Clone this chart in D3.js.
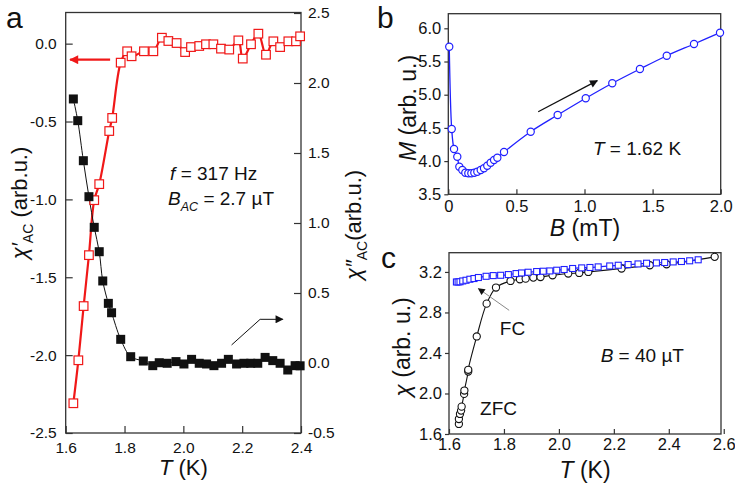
<!DOCTYPE html>
<html><head><meta charset="utf-8">
<script src="https://cdn.jsdelivr.net/npm/d3@7"></script>
<style>
body{margin:0;background:#fff}
svg{display:block;background:#fff}
text{font-family:"Liberation Sans",Arial,sans-serif;fill:#111}
</style>
</head><body>
<svg id="chart" width="735" height="489"></svg>
<script>
// ---------- Panel a data ----------
const aTicksX = [1.6, 1.8, 2.0, 2.2, 2.4];
const aTicksLeft = [-2.5, -2.0, -1.5, -1.0, -0.5, 0.0];
const aTicksRight = [-0.5, 0.0, 0.5, 1.0, 1.5, 2.0, 2.5];
const chiPrimeT = [1.626,1.643,1.661,1.679,1.697,1.714,1.748,1.758,1.787,1.809,1.824,1.866,1.898,1.927,1.949,1.977,2.006,2.026,2.054,2.077,2.102,2.128,2.156,2.187,2.202,2.230,2.255,2.281,2.306,2.329,2.357,2.383,2.397];
const chiPrime = [-2.309,-2.033,-1.685,-1.358,-1.005,-0.902,-0.561,-0.477,-0.122,-0.049,-0.081,-0.049,-0.049,0.038,0.017,0.004,-0.054,-0.022,-0.015,-0.004,-0.004,-0.032,-0.038,0.021,-0.096,-0.004,0.064,-0.071,0.015,-0.022,0.015,0.015,0.047];
const chiDoubleT = [1.626,1.641,1.660,1.679,1.697,1.714,1.726,1.745,1.756,1.787,1.821,1.864,1.896,1.918,1.945,1.975,2.002,2.028,2.054,2.079,2.104,2.130,2.153,2.181,2.206,2.229,2.253,2.278,2.304,2.329,2.355,2.380,2.397];
const chiDouble = [1.886,1.731,1.445,1.188,0.969,0.795,0.586,0.426,0.359,0.169,0.045,0.014,-0.019,0.002,-0.002,0.010,-0.007,0.026,-0.002,-0.007,-0.019,-0.002,0.026,-0.007,-0.002,-0.002,-0.002,0.040,0.017,-0.002,-0.050,-0.019,-0.020];

// ---------- Panel b data ----------
const bTicksX = [0, 0.5, 1.0, 1.5, 2.0];
const bTicksY = [3.5, 4.0, 4.5, 5.0, 5.5, 6.0];
const fieldB = [0.007,0.025,0.042,0.066,0.081,0.103,0.125,0.147,0.169,0.191,0.213,0.238,0.262,0.286,0.311,0.336,0.360,0.409,0.605,0.803,1.009,1.204,1.407,1.604,1.804,1.995];
const magM = [5.723,4.483,4.182,4.066,3.916,3.866,3.825,3.816,3.816,3.825,3.840,3.866,3.892,3.931,3.976,4.017,4.051,4.137,4.443,4.694,4.946,5.172,5.387,5.587,5.764,5.934];

// ---------- Panel c data ----------
const cTicksX = [1.6, 1.8, 2.0, 2.2, 2.4, 2.6];
const cTicksY = [1.6, 2.0, 2.4, 2.8, 3.2];
const zfcT = [1.636,1.636,1.640,1.644,1.646,1.655,1.656,1.670,1.670,1.701,1.737,1.771,1.824,1.858,1.879,1.907,1.933,1.977,2.034,2.074,2.107,2.228,2.331,2.392,2.567];
const zfcChi = [1.699,1.748,1.798,1.831,1.870,1.996,2.029,2.217,2.234,2.563,2.887,3.046,3.111,3.128,3.134,3.144,3.150,3.167,3.184,3.190,3.200,3.234,3.266,3.276,3.349];
const fcT = [1.627,1.633,1.640,1.650,1.662,1.676,1.691,1.707,1.735,1.761,1.788,1.816,1.844,1.864,1.888,1.919,1.943,1.967,1.992,2.019,2.050,2.083,2.113,2.143,2.185,2.216,2.252,2.288,2.319,2.355,2.385,2.416,2.446,2.476,2.507];
const fcChi = [3.101,3.101,3.103,3.111,3.118,3.128,3.135,3.145,3.157,3.164,3.167,3.174,3.184,3.190,3.197,3.204,3.207,3.210,3.217,3.224,3.234,3.240,3.244,3.250,3.259,3.266,3.273,3.279,3.286,3.289,3.293,3.299,3.303,3.310,3.320];

const RED = "#f01818", BLUE = "#2020ff", AXC = "#333";
const svg = d3.select("#chart");
const defs = svg.append("defs");
function marker(id, color, w, h) {
  defs.append("marker").attr("id", id).attr("viewBox", "0 0 10 10")
    .attr("refX", 9).attr("refY", 5).attr("markerWidth", w).attr("markerHeight", h)
    .attr("markerUnits", "userSpaceOnUse").attr("orient", "auto")
    .append("path").attr("d", "M0,0 L10,5 L0,10 Z").attr("fill", color);
}
marker("arrRed", RED, 13, 9);
marker("arrBlk", "#111", 20, 8);
marker("arrSmall", "#111", 9, 7);

function styleAxis(g, fs) {
  g.select(".domain").remove();
  g.selectAll(".tick line").attr("stroke", AXC).attr("stroke-width", 1.2);
  g.selectAll(".tick text").attr("font-size", fs).attr("fill", "#111")
    .attr("font-family", '"Liberation Sans",Arial,sans-serif');
}
function frame(x, y) {
  const [x0, x1] = x.range(), [y0, y1] = y.range();
  svg.append("rect").attr("x", x0).attr("y", Math.min(y0, y1))
    .attr("width", x1 - x0).attr("height", Math.abs(y0 - y1))
    .attr("fill", "none").attr("stroke", AXC).attr("stroke-width", 1.3);
}
const fmt1 = d => d.toFixed(1);

// ================= Panel a =================
const xa = d3.scaleLinear().domain([1.6, 2.4]).range([65.7, 301]);
const yaL = d3.scaleLinear().domain([-2.5, 0.2]).range([433, 12.5]);
const yaR = d3.scaleLinear().domain([-0.5, 2.5]).range([433, 13]);

svg.append("g").attr("transform", `translate(0,433)`)
  .call(d3.axisBottom(xa).tickValues(aTicksX).tickFormat(fmt1).tickSizeInner(-7).tickSizeOuter(0).tickPadding(9))
  .call(g => styleAxis(g, 15.5));
svg.append("g").attr("transform", `translate(65.7,0)`)
  .call(d3.axisLeft(yaL).tickValues(aTicksLeft).tickFormat(fmt1).tickSizeInner(-7).tickSizeOuter(0).tickPadding(9))
  .call(g => styleAxis(g, 15.5));
svg.append("g").attr("transform", `translate(301,0)`)
  .call(d3.axisRight(yaR).tickValues(aTicksRight).tickFormat(fmt1).tickSizeInner(-7).tickSizeOuter(0).tickPadding(7))
  .call(g => styleAxis(g, 15.5));
frame(xa, yaL);

const redPts = chiPrimeT.map((t, i) => [t, chiPrime[i]]);
const blkPts = chiDoubleT.map((t, i) => [t, chiDouble[i]]);
svg.append("path").datum(redPts)
  .attr("d", d3.line().x(d => xa(d[0])).y(d => yaL(d[1])).curve(d3.curveCatmullRom))
  .attr("fill", "none").attr("stroke", RED).attr("stroke-width", 2.2);
svg.append("path").datum(blkPts)
  .attr("d", d3.line().x(d => xa(d[0])).y(d => yaR(d[1])).curve(d3.curveCatmullRom))
  .attr("fill", "none").attr("stroke", "#111").attr("stroke-width", 1);
svg.append("g").selectAll("rect").data(redPts).join("rect")
  .attr("x", d => xa(d[0]) - 4.3).attr("y", d => yaL(d[1]) - 4.3)
  .attr("width", 8.6).attr("height", 8.6)
  .attr("fill", "#fff").attr("stroke", RED).attr("stroke-width", 1.2);
svg.append("g").selectAll("rect").data(blkPts).join("rect")
  .attr("x", d => xa(d[0]) - 4.5).attr("y", d => yaR(d[1]) - 4.5)
  .attr("width", 9).attr("height", 9).attr("fill", "#111");

// arrows
svg.append("line").attr("x1", xa(1.751)).attr("y1", yaL(-0.103))
  .attr("x2", xa(1.615)).attr("y2", yaL(-0.103))
  .attr("stroke", RED).attr("stroke-width", 2.2).attr("marker-end", "url(#arrRed)");
svg.append("path")
  .attr("d", d3.line()([[xa(2.164), yaR(0.129)], [xa(2.261), yaR(0.312)], [xa(2.338), yaR(0.312)]]))
  .attr("fill", "none").attr("stroke", "#111").attr("stroke-width", 1).attr("marker-end", "url(#arrBlk)");

// annotations
const ta = svg.append("text").attr("x", xa(1.955)).attr("y", yaL(-0.877)).attr("font-size", 19);
ta.append("tspan").attr("font-style", "italic").text("f");
ta.append("tspan").text(" = 317 Hz");
const tb = svg.append("text").attr("x", xa(1.948)).attr("y", yaL(-1.037)).attr("font-size", 19);
tb.append("tspan").attr("font-style", "italic").text("B");
tb.append("tspan").attr("font-style", "italic").attr("font-size", 12.5).attr("dy", 6).text("AC");
tb.append("tspan").attr("dy", -6).text(" = 2.7 \u00b5T");

// axis titles
const ly = svg.append("text").attr("transform", "translate(27,203) rotate(-90)")
  .attr("text-anchor", "middle").attr("font-size", 22);
ly.append("tspan").attr("font-style", "italic").text("\u03c7\u2032");
ly.append("tspan").attr("font-size", 14).attr("dy", 6).text("AC");
ly.append("tspan").attr("dy", -6).text(" (arb.u.)");
const ry = svg.append("text").attr("transform", "translate(361,225) rotate(-90)")
  .attr("text-anchor", "middle").attr("font-size", 22);
ry.append("tspan").attr("font-style", "italic").text("\u03c7\u2033");
ry.append("tspan").attr("font-size", 14).attr("dy", 6).text("AC");
ry.append("tspan").attr("dy", -6).text("(arb.u.)");
const lx = svg.append("text").attr("x", xa(2.0)).attr("y", 475).attr("text-anchor", "middle").attr("font-size", 22);
lx.append("tspan").attr("font-style", "italic").text("T");
lx.append("tspan").text(" (K)");
svg.append("text").attr("x", 6).attr("y", 28).attr("font-size", 30).text("a");

// ================= Panel b =================
const xb = d3.scaleLinear().domain([0, 2.0]).range([448.3, 720.7]);
const yb = d3.scaleLinear().domain([3.5, 6.22]).range([194.3, 13.7]);
svg.append("g").attr("transform", `translate(0,194.3)`)
  .call(d3.axisBottom(xb).tickValues(bTicksX).tickFormat(d => d === 0 ? "0" : d.toFixed(1)).tickSizeInner(-5).tickSizeOuter(0).tickPadding(6))
  .call(g => styleAxis(g, 16.5));
svg.append("g").attr("transform", `translate(448.3,0)`)
  .call(d3.axisLeft(yb).tickValues(bTicksY).tickFormat(fmt1).tickSizeInner(4).tickSizeOuter(0).tickPadding(3))
  .call(g => styleAxis(g, 16.5));
frame(xb, yb);
const bPts = fieldB.map((b, i) => [b, magM[i]]);
svg.append("path").datum(bPts)
  .attr("d", d3.line().x(d => xb(d[0])).y(d => yb(d[1])).curve(d3.curveCatmullRom))
  .attr("fill", "none").attr("stroke", BLUE).attr("stroke-width", 1.3);
svg.append("g").selectAll("circle").data(bPts).join("circle")
  .attr("cx", d => xb(d[0])).attr("cy", d => yb(d[1])).attr("r", 3.6)
  .attr("fill", "#fff").attr("stroke", BLUE).attr("stroke-width", 1.2);
svg.append("line").attr("x1", xb(0.66)).attr("y1", yb(4.744)).attr("x2", xb(1.094)).attr("y2", yb(5.211))
  .attr("stroke", "#111").attr("stroke-width", 1.3).attr("marker-end", "url(#arrBlk)");
const tT = svg.append("text").attr("x", xb(1.062)).attr("y", yb(4.09)).attr("font-size", 19);
tT.append("tspan").attr("font-style", "italic").text("T");
tT.append("tspan").text(" = 1.62 K");
const bly = svg.append("text").attr("transform", "translate(416,108) rotate(-90)")
  .attr("text-anchor", "middle").attr("font-size", 23);
bly.append("tspan").attr("font-style", "italic").text("M");
bly.append("tspan").text(" (arb. u.)");
const blx = svg.append("text").attr("x", 585).attr("y", 236).attr("text-anchor", "middle").attr("font-size", 23);
blx.append("tspan").attr("font-style", "italic").text("B");
blx.append("tspan").text(" (mT)");
svg.append("text").attr("x", 377).attr("y", 28).attr("font-size", 30).text("b");

// ================= Panel c =================
const xc = d3.scaleLinear().domain([1.6, 2.59]).range([449, 721]);
const yc = d3.scaleLinear().domain([1.6, 3.39]).range([434, 252.7]);
svg.append("g").attr("transform", `translate(0,434)`)
  .call(d3.axisBottom(xc).tickValues(cTicksX).tickFormat(fmt1).tickSizeInner(-5).tickSizeOuter(0).tickPadding(4))
  .call(g => styleAxis(g, 16.5));
svg.append("g").attr("transform", `translate(449,0)`)
  .call(d3.axisLeft(yc).tickValues(cTicksY).tickFormat(fmt1).tickSizeInner(4).tickSizeOuter(0).tickPadding(3))
  .call(g => styleAxis(g, 16.5));
frame(xc, yc);
const zPts = zfcT.map((t, i) => [t, zfcChi[i]]);
const fPts = fcT.map((t, i) => [t, fcChi[i]]);
svg.append("path").datum(zPts)
  .attr("d", d3.line().x(d => xc(d[0])).y(d => yc(d[1])).curve(d3.curveCatmullRom))
  .attr("fill", "none").attr("stroke", "#111").attr("stroke-width", 1.1);
svg.append("path").datum(fPts)
  .attr("d", d3.line().x(d => xc(d[0])).y(d => yc(d[1])).curve(d3.curveCatmullRom))
  .attr("fill", "none").attr("stroke", BLUE).attr("stroke-width", 1.2);
svg.append("g").selectAll("circle").data(zPts).join("circle")
  .attr("cx", d => xc(d[0])).attr("cy", d => yc(d[1])).attr("r", 3.6)
  .attr("fill", "#fff").attr("stroke", "#111").attr("stroke-width", 1.1);
svg.append("g").selectAll("rect").data(fPts).join("rect")
  .attr("x", d => xc(d[0]) - 3).attr("y", d => yc(d[1]) - 3).attr("width", 6).attr("height", 6)
  .attr("fill", "#fff").attr("stroke", BLUE).attr("stroke-width", 1.1);
svg.append("line").attr("x1", xc(1.819)).attr("y1", yc(2.821)).attr("x2", xc(1.707)).attr("y2", yc(3.036))
  .attr("stroke", "#888").attr("stroke-width", 1).attr("marker-end", "url(#arrSmall)");
svg.append("text").attr("x", xc(1.785)).attr("y", yc(2.573)).attr("font-size", 19).text("FC");
svg.append("text").attr("x", xc(1.713)).attr("y", yc(1.791)).attr("font-size", 19).text("ZFC");
const tB = svg.append("text").attr("x", xc(2.152)).attr("y", yc(2.309)).attr("font-size", 19);
tB.append("tspan").attr("font-style", "italic").text("B");
tB.append("tspan").text(" = 40 \u00b5T");
const cly = svg.append("text").attr("transform", "translate(410,347) rotate(-90)")
  .attr("text-anchor", "middle").attr("font-size", 23);
cly.append("tspan").attr("font-style", "italic").text("\u03c7");
cly.append("tspan").text(" (arb. u.)");
const clx = svg.append("text").attr("x", 585).attr("y", 478).attr("text-anchor", "middle").attr("font-size", 23);
clx.append("tspan").attr("font-style", "italic").text("T");
clx.append("tspan").text(" (K)");
svg.append("text").attr("x", 381).attr("y", 268).attr("font-size", 30).text("c");
</script>
</body></html>
